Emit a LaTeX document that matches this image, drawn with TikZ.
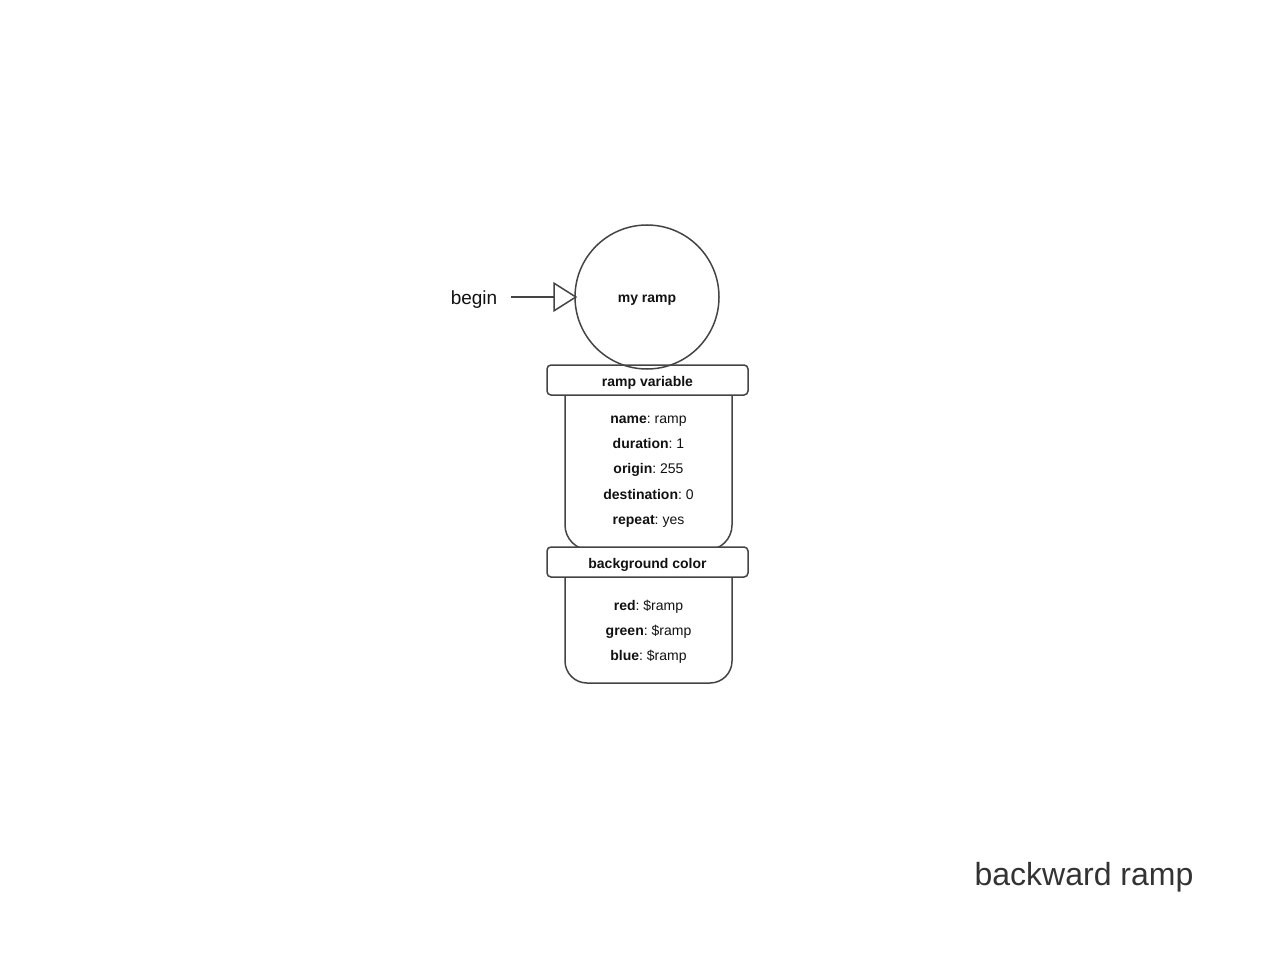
\documentclass[tikz,border=0pt]{standalone}
\usepackage{fontspec}
\setmainfont{Liberation Sans}
\usetikzlibrary{arrows.meta}
\definecolor{edge}{HTML}{444444}
\definecolor{ink}{HTML}{111111}
\definecolor{titleink}{HTML}{333333}
\frenchspacing
\begin{document}
\begin{tikzpicture}[x=1pt,y=-1pt,
  outline/.style={draw=edge, line width=1.5pt},
  headbox/.style={outline, fill=white, rounded corners=4pt, minimum width=201pt, minimum height=30pt, inner sep=0pt},
  headtext/.style={inner sep=0pt, font=\fontsize{14}{16}\selectfont\bfseries, text=ink},
  bodytext/.style={align=center, inner sep=0pt, font=\fontsize{14}{25.2}\selectfont\frenchspacing, text=ink},
  statecircle/.style={outline, circle, minimum size=144pt, inner sep=0pt},
  openarrow/.style={draw=edge, line width=1.5pt, -{Triangle[open, length=24pt, width=30pt, line width=1.5pt]}}
]
\useasboundingbox (0,0) rectangle (1280,960);
% bodies
\draw[outline, rounded corners=25pt] (565,370) -- (565,550) -- (732,550) -- (732,370);
\draw[outline, rounded corners=22pt] (565,552) -- (565,683) -- (732,683) -- (732,552);
\node[bodytext] (vars) at (648.5,471.5) {\textbf{name}: ramp\\\textbf{duration}: 1\\\textbf{origin}: 255\\\textbf{destination}: 0\\\textbf{repeat}: yes};
\node[bodytext] (colors) at (648.5,631.5) {\textbf{red}: \$ramp\\\textbf{green}: \$ramp\\\textbf{blue}: \$ramp};
% headers
\node[headbox] (h1) at (647.5,380) {};
\node[headtext] (h1t) at (647.5,383) {ramp variable};
\node[headbox] (h2) at (647.5,562) {};
\node[headtext] (h2t) at (647.5,565) {background color};
% state
\node[statecircle] (ramp) at (647,297) {};
\node[headtext] (rampt) at (647,300) {my ramp};
\node[inner sep=0pt, font=\fontsize{19}{22}\selectfont, text=ink] (beginlbl) at (474,300) {begin};
\draw[openarrow, shorten <=14pt, shorten >=-3pt] (beginlbl.east |- ramp.west) -- (ramp.west);
% title
\node[inner sep=0pt, font=\fontsize{32}{36}\selectfont, text=titleink] (title) at (1084,877) {backward ramp};
\end{tikzpicture}
\end{document}
